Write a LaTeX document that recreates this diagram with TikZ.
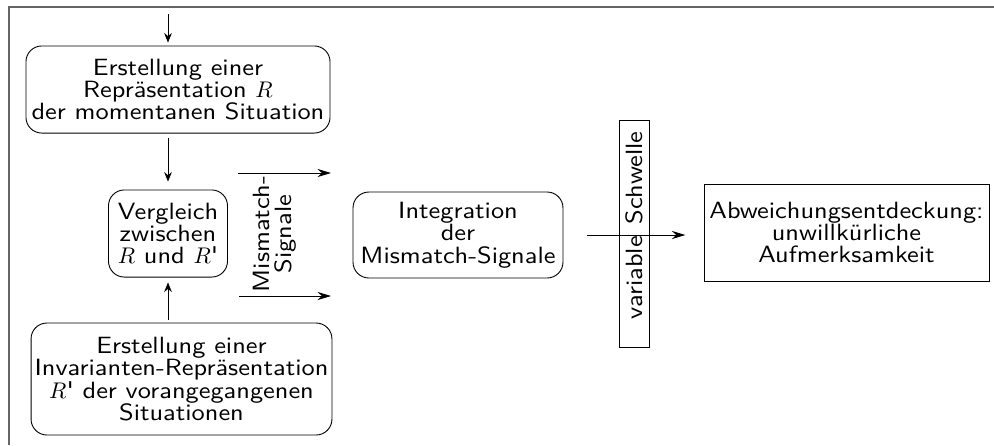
\documentclass[tikz,border=0pt]{standalone}
\usepackage{fontspec}
\newfontfamily\diagfont[FakeStretch=1.12]{lmsans10-regular.otf}
\usetikzlibrary{arrows.meta}
\definecolor{framegray}{HTML}{666666}
\tikzset{
  txt/.style={font=\diagfont\fontsize{10.4}{9.9}\selectfont, align=center},
  stagebox/.style={txt, draw, rounded corners=7pt, inner sep=0pt},
  plainbox/.style={txt, draw, inner sep=0pt},
  vflow/.style={-{Stealth[length=4.2pt,width=3.4pt]}},
  hflow/.style={-{Stealth[length=6pt,width=3.6pt,inset=2pt]}},
}
\begin{document}
\begin{tikzpicture}[x=0.442pt,y=-0.442pt]
\useasboundingbox (0,0) rectangle (994,445);
% open frame (top and left edges)
\coordinate (fr) at (994,7);
\coordinate (fc) at (9,7);
\coordinate (fb) at (9,445);
\draw[framegray, line width=0.9pt] (fr) -- (fc) -- (fb);

% process stages
\node[stagebox, minimum width=134.4pt, minimum height=38.5pt] (cur) at (178,89.5)
  {Erstellung einer\\Repräsentation $R$\\der momentanen Situation};
\node[stagebox, minimum width=52.6pt, minimum height=38.5pt] (cmp) at (168,233.5)
  {Vergleich\\zwischen\\$R$ und $R$'};
\node[stagebox, minimum width=133pt, minimum height=49.5pt] (inv) at (181.5,379)
  {Erstellung einer\\Invarianten-Repräsentation\\$R$' der vorangegangenen\\Situationen};
\node[txt, rotate=90] (mm) at (275,234) {Mismatch-\\Signale};
\node[stagebox, minimum width=92.8pt, minimum height=38pt] (integ) at (458,235)
  {Integration\\der\\Mismatch-Signale};
\node[plainbox, rotate=90, minimum width=100.3pt, minimum height=13.3pt] (thr) at (634,233.5)
  {\hspace*{7pt}variable\hspace{1.2pt} Schwelle};
\node[plainbox, minimum width=126pt, minimum height=42.9pt] (det) at (846.5,232.5)
  {Abweichungsentdeckung:\\unwillkürliche\\Aufmerksamkeit};

% vertical flow
\coordinate (in) at (168,14);
\draw[vflow, shorten >=1.3pt] (in) -- (in |- cur.north);
\draw[vflow, shorten <=2.2pt, shorten >=3.5pt] (cmp.north |- cur.south) -- (cmp.north);
\draw[vflow, shorten <=1.3pt, shorten >=2.2pt] (cmp.south |- inv.north) -- (cmp.south);

% mismatch signals
\coordinate (m1s) at (238,173);
\coordinate (m1e) at (331,173);
\coordinate (m2s) at (239,296);
\coordinate (m2e) at (331,296);
\draw[hflow] (m1s) -- (m1e);
\draw[hflow] (m2s) -- (m2e);

% through the threshold
\draw[hflow, shorten <=10.6pt, shorten >=8pt] (integ.east) -- (integ.east -| det.west);
\end{tikzpicture}
\end{document}
